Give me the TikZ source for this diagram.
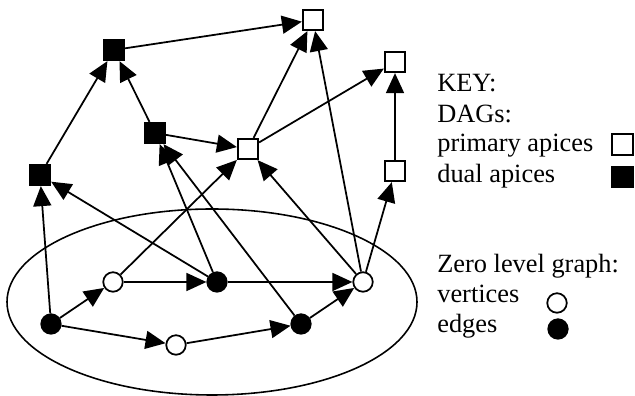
\documentclass[tikz,border=0pt]{standalone}
\usepackage{fontspec}
\setmainfont{Liberation Serif}
\usetikzlibrary{arrows.meta}

\begin{document}
\begin{tikzpicture}

 \tikzset{
      primstl/.style={draw,line width=1pt,fill=white,minimum size=0.41cm,inner sep=0pt},
      dualstl/.style={draw,line width=1pt,fill=black,minimum size=0.41cm,inner sep=0pt},
      vertstl/.style={circle,draw,line width=1pt,fill=white,minimum size=0.39cm,inner sep=0pt},
      edgstl/.style={circle,draw,line width=1pt,fill=black,minimum size=0.39cm,inner sep=0pt},
      arrstl/.style={line width=1pt,-{Triangle[length=0.4cm,width=0.36cm]}},
      keystl/.style={anchor=base west,inner sep=0pt,font=\fontsize{15pt}{18pt}\selectfont},
    }

 \useasboundingbox (0,0) rectangle (12.70,7.92);

 %% zero level graph.
 \draw[line width=0.9pt] (+4.24,+1.88) ellipse (4.10 and 1.86);

 \node[edgstl] (e0) at (+1.02,+1.44) {};
 \node[vertstl] (v1) at (+2.26,+2.28) {};
 \node[edgstl] (e1) at (+4.34,+2.28) {};
 \node[vertstl] (v2) at (+7.26,+2.28) {};
 \node[vertstl] (v3) at (+3.52,+1.02) {};
 \node[edgstl] (e2) at (+6.02,+1.44) {};

 %% apices of the DAGs.
 \node[primstl] (p1) at (+6.26,+7.52) {};
 \node[primstl] (p2) at (+7.90,+6.68) {};
 \node[primstl] (p3) at (+4.96,+4.94) {};
 \node[primstl] (p4) at (+7.90,+4.50) {};

 \node[dualstl] (d1) at (+2.28,+6.92) {};
 \node[dualstl] (d2) at (+3.10,+5.26) {};
 \node[dualstl] (d3) at (+0.80,+4.42) {};

 % inside the ellipse.
 \draw[arrstl] (e0) -- (v1);
 \draw[arrstl] (e0) -- (v3);
 \draw[arrstl] (v1) -- (e1);
 \draw[arrstl] (e1) -- (v2);
 \draw[arrstl] (v3) -- (e2);
 \draw[arrstl] (e2) -- (v2);

 % from the ellipse up.
 \draw[arrstl] (e0) -- (d3);
 \draw[arrstl] (e1) -- (d3);
 \draw[arrstl] (e1) -- (d2);
 \draw[arrstl] (e2) -- (d2);
 \draw[arrstl] (v1) -- (p3);
 \draw[arrstl] (v2) -- (p3);
 \draw[arrstl] (v2) -- (p1);
 \draw[arrstl] (v2) -- (p4);

 % between apices.
 \draw[arrstl] (d3) -- (d1);
 \draw[arrstl] (d2) -- (d1);
 \draw[arrstl] (d2) -- (p3);
 \draw[arrstl] (d1) -- (p1);
 \draw[arrstl] (p3) -- (p1);
 \draw[arrstl] (p3) -- (p2);
 \draw[arrstl] (p4) -- (p2);

 %% key.
 \node[keystl] (keyttl) at (+8.74,+6.08) {KEY:};
 \node[keystl] (keydag) at (+8.74,+5.46) {DAGs:};
 \node[keystl] (keyprimtxt) at (+8.74,+4.88) {primary apices};
 \node[keystl] (keydualtxt) at (+8.74,+4.26) {dual apices};
 \node[keystl] (keyzero) at (+8.74,+2.46) {Zero level graph:};
 \node[keystl] (keyverttxt) at (+8.74,+1.86) {vertices};
 \node[keystl] (keyedgtxt) at (+8.74,+1.26) {edges};

 \node[primstl] (keyprim) at (+12.45,+5.03) {};
 \node[dualstl] (keydual) at (+12.45,+4.38) {};
 \node[vertstl] (keyvert) at (+11.14,+1.86) {};
 \node[edgstl] (keyedg) at (+11.16,+1.34) {};

\end{tikzpicture}
\end{document}
